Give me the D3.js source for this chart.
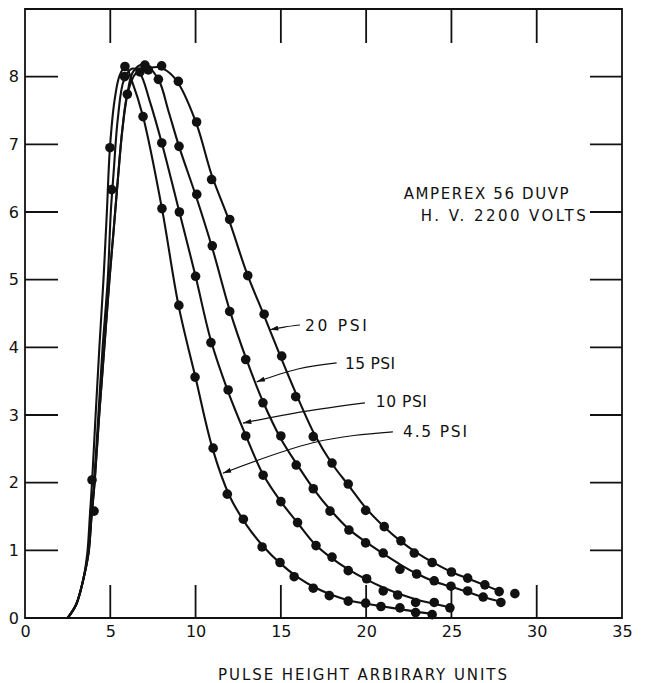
<!DOCTYPE html>
<html>
<head>
<meta charset="utf-8">
<script src="https://cdn.jsdelivr.net/npm/d3@7"></script>
</head>
<body style="margin:0;background:#fff">
<svg id="chart" width="648" height="683" font-family="DejaVu Sans, sans-serif"></svg>
<script>
// tick values
const xTicks = [0, 5, 10, 15, 20, 25, 30, 35];
const yTicks = [0, 1, 2, 3, 4, 5, 6, 7, 8];

const seriesNames = ["4.5 PSI", "10 PSI", "15 PSI", "20 PSI"];

// measured points (pulse height, counts)
const dots45 = [[3.93, 2.04], [4.98, 6.95], [5.86, 8.15], [6.92, 7.41], [8.03, 6.05], [9.02, 4.62], [9.97, 3.56],
    [11.03, 2.51], [11.86, 1.83], [12.8, 1.46], [13.9, 1.05], [14.95, 0.82], [15.78, 0.61], [16.9, 0.44],
    [17.84, 0.33], [18.95, 0.25], [19.97, 0.22], [20.87, 0.17], [21.98, 0.15], [22.9, 0.08], [23.87, 0.05]];
const dots10 = [[4.05, 1.58], [5.08, 6.33], [5.84, 8.0], [6.74, 8.07], [8.02, 7.02], [9.05, 6.0], [10.0, 5.05],
    [10.9, 4.07], [11.91, 3.37], [12.94, 2.69], [13.96, 2.11], [15.0, 1.72], [15.98, 1.41], [17.06, 1.07],
    [18.0, 0.9], [18.95, 0.7], [20.03, 0.58], [21.0, 0.4], [21.85, 0.34], [22.9, 0.23], [23.99, 0.23], [24.91, 0.15]];
const dots15 = [[6.0, 7.74], [7.03, 8.17], [7.82, 7.96], [9.03, 6.97], [10.07, 6.26], [10.98, 5.5], [12.0, 4.53],
    [12.94, 3.82], [13.95, 3.18], [15.0, 2.69], [15.9, 2.26], [16.9, 1.91], [17.88, 1.58], [18.99, 1.3],
    [19.97, 1.11], [21.0, 0.96], [21.98, 0.72], [22.96, 0.65], [23.99, 0.55], [24.97, 0.47], [25.95, 0.4],
    [26.86, 0.31], [27.9, 0.23]];
const dots20 = [[7.23, 8.1], [8.01, 8.16], [8.99, 7.93], [10.06, 7.33], [10.94, 6.48], [12.0, 5.89], [13.06, 5.06],
    [14.02, 4.49], [15.05, 3.87], [15.87, 3.27], [16.9, 2.68], [18.0, 2.29], [18.95, 1.98], [19.97, 1.59],
    [21.06, 1.35], [22.04, 1.14], [22.82, 0.96], [23.87, 0.82], [25.0, 0.68], [25.95, 0.59], [26.96, 0.49],
    [27.8, 0.39], [28.72, 0.36]];

// drawn smooth curves
const curve45 = [[2.5, 0], [3.0, 0.2], [3.4, 0.55], [3.65, 0.95], [3.8, 1.5], [3.93, 2.0], [4.14, 3.0], [4.36, 4.0],
    [4.6, 5.0], [4.8, 6.0], [4.98, 6.95], [5.25, 7.65], [5.55, 8.02], [5.9, 8.15], [6.25, 7.95], [6.92, 7.41],
    [8.03, 6.05], [9.0, 4.62], [10.0, 3.55], [11.0, 2.5], [12.0, 1.8], [13.0, 1.37], [14.0, 1.05], [15.0, 0.8],
    [16.0, 0.6], [17.0, 0.45], [18.0, 0.34], [19.0, 0.26], [20.0, 0.21], [21.0, 0.17], [22.0, 0.13], [23.0, 0.09],
    [24.0, 0.06]];
const curve10 = [[2.5, 0], [3.0, 0.2], [3.4, 0.55], [3.7, 0.95], [3.88, 1.5], [4.05, 2.0], [4.3, 3.0], [4.55, 4.0],
    [4.85, 5.0], [5.03, 6.0], [5.2, 6.6], [5.45, 7.4], [5.8, 7.95], [6.3, 8.12], [6.74, 8.05], [7.3, 7.65],
    [8.02, 7.02], [9.05, 6.0], [10.0, 5.05], [10.9, 4.1], [11.9, 3.35], [12.94, 2.7], [13.96, 2.12], [15.0, 1.72],
    [16.0, 1.4], [17.0, 1.09], [18.0, 0.88], [19.0, 0.71], [20.0, 0.57], [21.0, 0.45], [22.0, 0.35], [23.0, 0.27],
    [24.0, 0.21], [24.9, 0.16]];
const curve15 = [[2.5, 0], [3.0, 0.2], [3.4, 0.55], [3.72, 0.95], [3.9, 1.5], [4.08, 2.0], [4.35, 3.0], [4.65, 4.0],
    [4.95, 5.0], [5.2, 5.74], [5.45, 6.5], [5.7, 7.2], [6.0, 7.74], [6.35, 8.08], [7.0, 8.18], [7.82, 7.96],
    [8.4, 7.5], [9.03, 6.97], [10.07, 6.2], [11.0, 5.45], [12.0, 4.55], [12.94, 3.85], [13.95, 3.2], [15.0, 2.65],
    [16.0, 2.25], [17.0, 1.88], [18.0, 1.57], [19.0, 1.31], [20.0, 1.12], [21.0, 0.95], [22.0, 0.79], [23.0, 0.65],
    [24.0, 0.54], [25.0, 0.46], [26.0, 0.38], [27.0, 0.3], [27.9, 0.24]];
const curve20 = [[2.5, 0], [3.0, 0.2], [3.4, 0.55], [3.72, 0.95], [3.9, 1.5], [4.08, 2.0], [4.35, 3.0], [4.65, 4.0],
    [4.95, 5.0], [5.2, 5.74], [5.45, 6.5], [5.7, 7.2], [6.0, 7.74], [6.5, 8.05], [7.2, 8.12], [7.9, 8.14],
    [8.5, 8.05], [9.0, 7.9], [10.06, 7.3], [10.94, 6.55], [12.0, 5.85], [13.0, 5.1], [14.0, 4.48], [15.0, 3.85],
    [16.0, 3.25], [17.0, 2.7], [18.0, 2.28], [19.0, 1.95], [20.0, 1.62], [21.0, 1.36], [22.0, 1.14], [23.0, 0.96],
    [24.0, 0.81], [25.0, 0.68], [26.0, 0.58], [27.0, 0.48], [27.8, 0.4]];

const svg = d3.select("#chart"),
    x = d3.scaleLinear().domain([0, 35]).range([25, 622]),
    y = d3.scaleLinear().domain([0, 9]).range([618, 9]);

const series = [
    { name: seriesNames[0], dots: dots45, curve: curve45 },
    { name: seriesNames[1], dots: dots10, curve: curve10 },
    { name: seriesNames[2], dots: dots15, curve: curve15 },
    { name: seriesNames[3], dots: dots20, curve: curve20 }
];

// arrow head for the leader lines
svg.append("defs").append("marker")
    .attr("id", "arrow")
    .attr("viewBox", "0 0 10 6")
    .attr("refX", 0).attr("refY", 3)
    .attr("markerWidth", 9).attr("markerHeight", 5)
    .attr("markerUnits", "userSpaceOnUse")
    .attr("orient", "auto")
    .append("path")
    .attr("d", "M0,3 L10,0 L10,6 Z")
    .attr("fill", "#111");

// tick labels on bottom and left
const styleLabels = (g) => {
    g.select(".domain").remove();
    g.selectAll(".tick line").remove();
    g.selectAll(".tick text").attr("fill", "#111").attr("font-size", 16).attr("font-family", "DejaVu Sans, sans-serif");
};

svg.append("g")
    .attr("transform", "translate(0," + y(0) + ")")
    .call(d3.axisBottom(x).tickValues(xTicks).tickSize(0).tickPadding(8).tickFormat(d3.format("d")))
    .call(styleLabels);
svg.append("g")
    .attr("transform", "translate(" + x(0) + ",0)")
    .call(d3.axisLeft(y).tickValues(yTicks).tickSize(0).tickPadding(6).tickFormat(d3.format("d")))
    .call(styleLabels);

// frame and inward ticks in one stroked path
const x0 = x(0), x1 = x(35), y0 = y(0), y1 = y(9);
const frame = d3.path();
frame.rect(x0, y1, x1 - x0, y0 - y1);
xTicks.slice(1, -1).forEach((d) => {
    frame.moveTo(x(d), y0); frame.lineTo(x(d), y0 - 33);
    frame.moveTo(x(d), y1); frame.lineTo(x(d), y1 + 34);
});
yTicks.slice(1).forEach((d) => {
    frame.moveTo(x0, y(d)); frame.lineTo(x0 + 33, y(d));
    frame.moveTo(x1, y(d)); frame.lineTo(x1 - 32, y(d));
});
svg.append("path")
    .attr("d", frame.toString())
    .attr("fill", "none")
    .attr("stroke", "#111")
    .attr("stroke-width", 1.8);

const line = d3.line()
    .x((d) => x(d[0]))
    .y((d) => y(d[1]))
    .curve(d3.curveCatmullRom.alpha(0.5));

const grp = svg.selectAll(".series").data(series).enter().append("g").attr("class", "series");

grp.append("path")
    .attr("d", (d) => line(d.curve))
    .attr("fill", "none")
    .attr("stroke", "#111")
    .attr("stroke-width", 2.1);

grp.selectAll("circle")
    .data((d) => d.dots)
    .enter().append("circle")
    .attr("cx", (d) => x(d[0]))
    .attr("cy", (d) => y(d[1]))
    .attr("r", 4.8)
    .attr("fill", "#111");

// curve labels with leader arrows (data units)
const labels = [
    { text: seriesNames[3], at: [16.41, 4.24], w: 62, lead: [[16.12, 4.33], [15.2, 4.3], [14.36, 4.26]] },
    { text: seriesNames[2], at: [18.76, 3.68], w: 50, lead: [[18.27, 3.77], [16.0, 3.68], [13.58, 3.49]] },
    { text: seriesNames[1], at: [20.57, 3.12], w: 51, lead: [[19.93, 3.18], [16.3, 3.05], [12.78, 2.88]] },
    { text: seriesNames[0], at: [22.16, 2.67], w: 64, lead: [[21.57, 2.75], [16.88, 2.59], [11.6, 2.14]] }
];

const leadLine = d3.line()
    .x((d) => x(d[0]))
    .y((d) => y(d[1]))
    .curve(d3.curveNatural);

labels.forEach((l) => {
    svg.append("path")
        .attr("d", leadLine(l.lead.slice().reverse()))
        .attr("fill", "none")
        .attr("stroke", "#111")
        .attr("stroke-width", 1.2)
        .attr("marker-start", "url(#arrow)");
    svg.append("text")
        .attr("x", x(l.at[0]))
        .attr("y", y(l.at[1]))
        .attr("textLength", l.w)
        .attr("lengthAdjust", "spacing")
        .attr("fill", "#111")
        .attr("font-size", 15.5)
        .text(l.text);
});

svg.append("text")
    .attr("x", x(22.2)).attr("y", y(6.19))
    .attr("textLength", 165).attr("lengthAdjust", "spacing")
    .attr("fill", "#111").attr("font-size", 15)
    .text("AMPEREX 56 DUVP");
svg.append("text")
    .attr("x", x(23.2)).attr("y", y(5.86))
    .attr("textLength", 165).attr("lengthAdjust", "spacing")
    .attr("fill", "#111").attr("font-size", 15)
    .text("H. V. 2200 VOLTS");

// x axis title
svg.append("text")
    .attr("x", 218).attr("y", 680)
    .attr("textLength", 289).attr("lengthAdjust", "spacing")
    .attr("fill", "#111").attr("font-size", 15)
    .text("PULSE HEIGHT ARBIRARY UNITS");
</script>
</body>
</html>
